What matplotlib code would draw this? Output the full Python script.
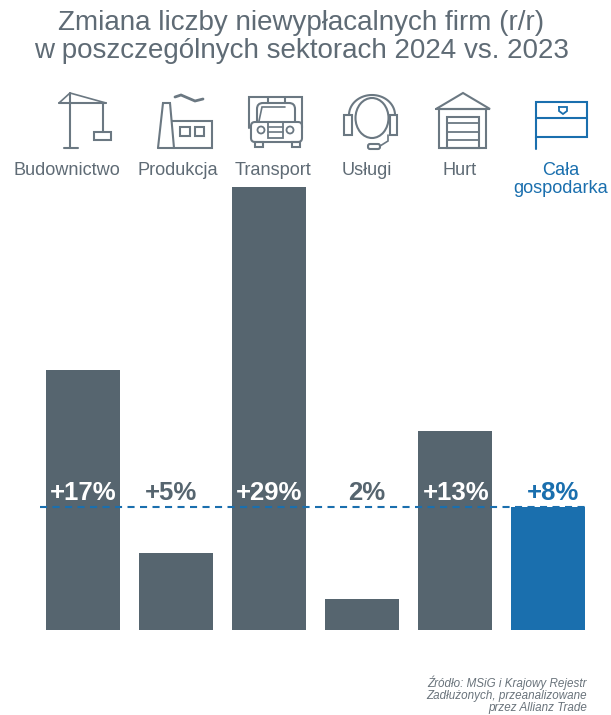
import numpy as np
import matplotlib
matplotlib.use("Agg")
import matplotlib.pyplot as plt
from matplotlib.patches import Ellipse, Circle, FancyBboxPatch, Rectangle

plt.rcParams['font.family'] = ['Liberation Sans', 'DejaVu Sans']

###########
# Donnees #
###########
sectors = ["Budownictwo", "Produkcja", "Transport", "Usługi", "Hurt", "Cała\ngospodarka"]
change = [17, 5, 29, 2, 13, 8]
labels = ["+17%", "+5%", "+29%", "2%", "+13%", "+8%"]
average = 8

title = "Zmiana liczby niewypłacalnych firm (r/r)\nw poszczególnych sektorach 2024 vs. 2023"
source = "Źródło: MSiG i Krajowy Rejestr\nZadłużonych, przeanalizowane\nprzez Allianz Trade"

grey = "#56656f"
blue = "#1a6fae"
text_grey = "#5f6b75"
icon_grey = "#6b7882"

W, H = 611, 715
fig = plt.figure(figsize=(W / 100, H / 100), dpi=100)

# overlay in pixel coordinates, for icons and text
ov = fig.add_axes([0, 0, 1, 1], zorder=3)
ov.set_xlim(0, W)
ov.set_ylim(H, 0)
ov.axis("off")
ov.patch.set_alpha(0)

##########
# Barres #
##########
ax = fig.add_axes([0, (H - 629.5) / H, 1, 442.5 / H], zorder=1)
ax.set_xlim(-83 / 93, (W - 83) / 93)
ax.set_ylim(0, 29)
ax.axis("off")
x = np.arange(len(change))
colors = [grey] * 5 + [blue]
ax.bar(x, change, width=0.805, color=colors, zorder=1)
ax.plot([-0.46, 5.4], [average, average], color=blue, lw=1.5, dashes=(3.4, 2.6), zorder=2)

label_x = [83, 171, 269, 367, 456, 553]
label_colors = ["white", grey, "white", grey, "white", blue]
for lx, s, c in zip(label_x, labels, label_colors):
    ov.text(lx, 493, s, ha="center", va="center", fontsize=18.5, fontweight="bold", color=c)

#########
# Texte #
#########
ov.text(301, 37, title, ha="center", va="center", fontsize=20, color=text_grey,
        linespacing=1.1)

sector_x = [67, 178, 273, 367, 460, 561]
for sx, s in zip(sector_x, sectors):
    c = blue if s.startswith("Cała") else text_grey
    ov.text(sx, 162, s, ha="center", va="top", fontsize=13.1, color=c, linespacing=1.05)

ov.text(587, 695, source, ha="right", va="center", fontsize=8.4, style="italic",
        color="#69737b", linespacing=0.98)

##########
# Icones #
##########
def line(xs, ys, c=icon_grey, lw=1.5):
    ov.plot(xs, ys, color=c, lw=lw, solid_capstyle="round", solid_joinstyle="miter")

def box(x0, y0, x1, y1, c=icon_grey, lw=1.5):
    ov.add_patch(Rectangle((x0, y0), x1 - x0, y1 - y0, fill=False, ec=c, lw=lw))

# dzwig
line([70, 70], [93, 148])
line([64, 78], [148, 148])
line([59, 106], [103, 103])
line([59, 70, 106], [103, 93, 103], lw=1.2)
line([103, 103], [103, 132])
box(94, 132, 111, 140)

# fabryka
line([158, 163, 170, 174], [148, 103, 103, 148])
line([158, 212, 212, 172], [148, 148, 121, 121])
box(180, 127, 190, 136)
box(195, 127, 204, 136)
line([175, 181, 188, 195, 203], [97, 95, 98, 101, 99], lw=2)

# ciezarowka
line([249, 249, 302, 302], [128, 97, 97, 128])
line([268, 268], [97, 103])
line([285, 285], [97, 103])
ov.add_patch(FancyBboxPatch((257, 103), 38, 24, boxstyle="round,pad=0,rounding_size=6",
                            fill=False, ec=icon_grey, lw=1.5))
ov.add_patch(FancyBboxPatch((251, 122), 51, 20, boxstyle="round,pad=0,rounding_size=4",
                            fc="white", ec=icon_grey, lw=1.5))
line([259, 262, 285], [121, 107, 107], lw=1.2)
ov.add_patch(Circle((261, 130), 3.5, fill=False, ec=icon_grey, lw=1.3))
ov.add_patch(Circle((290, 130), 3.5, fill=False, ec=icon_grey, lw=1.3))
box(268, 122, 283, 138, lw=1.3)
line([268, 283], [127, 127], lw=1.2)
line([268, 283], [132, 132], lw=1.2)
box(255, 142, 263, 147)
box(292, 142, 300, 147)

# sluchawki
ov.add_patch(Ellipse((372, 118), 33, 40, fill=False, ec=icon_grey, lw=1.5))
t = np.linspace(np.pi, 2 * np.pi, 40)
line(372 + 23 * np.cos(t), 115 + 20 * np.sin(t))
box(344, 115, 352, 135)
box(390, 115, 397, 135)
line([388, 388, 380], [135, 141, 146], lw=1.2)
ov.add_patch(FancyBboxPatch((368, 144), 12, 5, boxstyle="round,pad=0,rounding_size=2",
                            fill=False, ec=icon_grey, lw=1.5))

# magazyn
line([436, 463, 490, 436], [109, 93, 109, 109])
line([439, 439, 486, 486, 439], [109, 148, 148, 109, 109])
box(447, 117, 479, 148)
for sy in [123, 132, 140]:
    line([447, 479], [sy, sy], lw=1.3)

# cala gospodarka
box(536, 102, 587, 137, c=blue)
line([536, 587], [118, 118], c=blue)
line([536, 536], [137, 149], c=blue)
line([559, 559, 563, 567, 567, 559], [107, 111, 114, 111, 107, 107], c=blue, lw=1.3)

fig.savefig("out.png", dpi=100)
